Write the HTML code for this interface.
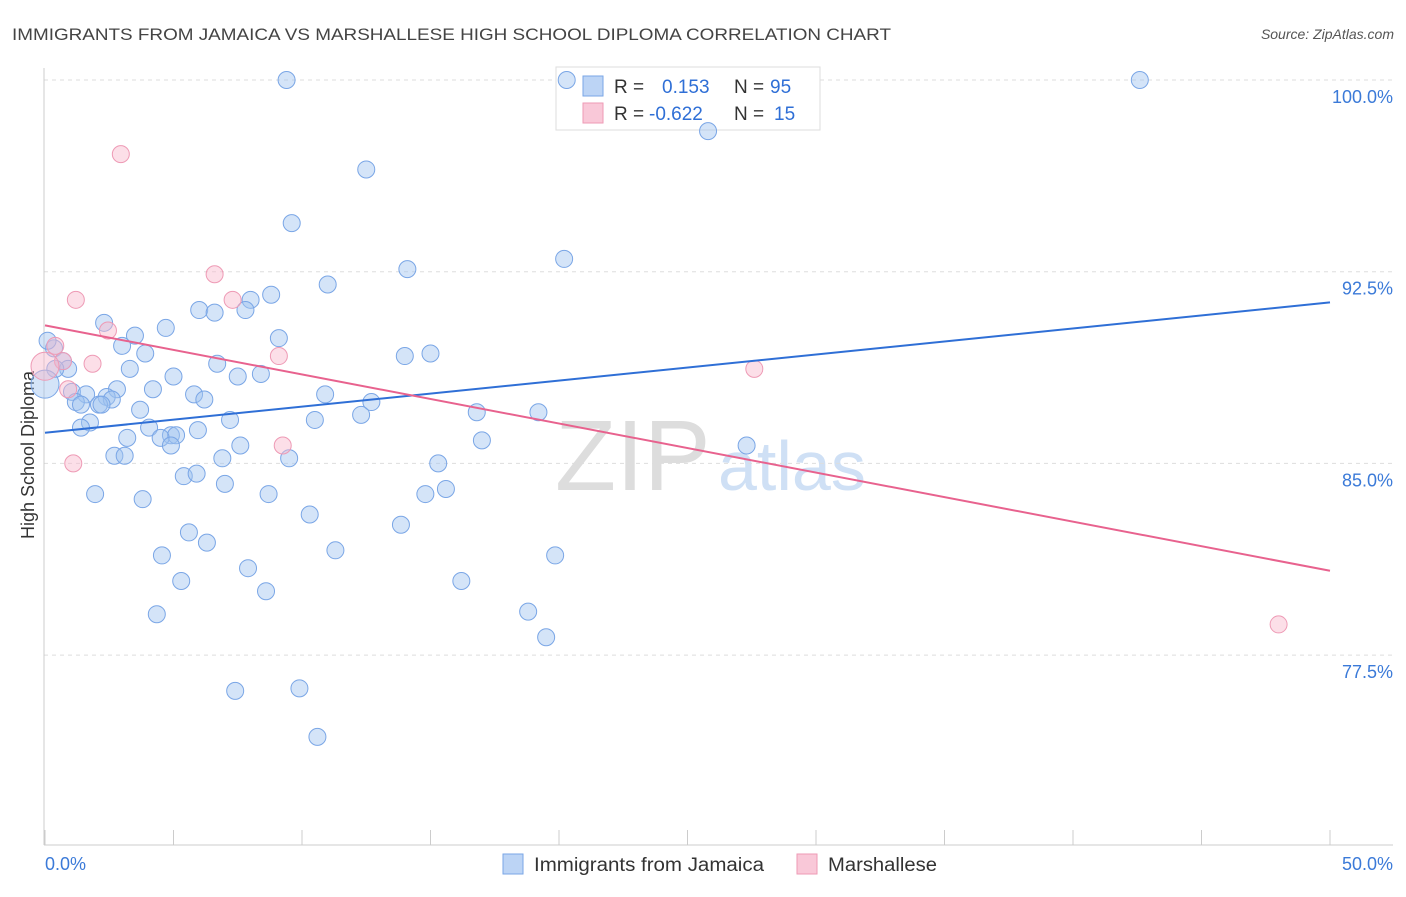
<!DOCTYPE html>
<html><head><meta charset="utf-8"><style>
body{margin:0;background:#fff;font-family:"Liberation Sans",sans-serif}
svg text{font-family:"Liberation Sans",sans-serif}
</style></head><body>
<svg id="chart" width="1406" height="892">
<text x="12" y="40" font-size="17" fill="#444" textLength="879" lengthAdjust="spacingAndGlyphs">IMMIGRANTS FROM JAMAICA VS MARSHALLESE HIGH SCHOOL DIPLOMA CORRELATION CHART</text>
<text x="1394" y="39" font-size="14" fill="#555" font-style="italic" text-anchor="end">Source: ZipAtlas.com</text>
<text x="555" y="490" font-size="100" fill="#ddd" font-family="Liberation Serif">ZIP</text>
<text x="718" y="490" font-size="70" fill="#cfe0f5">atlas</text>
<g id="grid"></g>
<line x1="44" y1="68" x2="44" y2="845" stroke="#ccc"/>
<line x1="44" y1="845" x2="1393" y2="845" stroke="#ccc"/>
<g id="ticks"></g>
<text transform="translate(34,455) rotate(-90)" font-size="18" fill="#333" text-anchor="middle">High School Diploma</text>
<text x="45" y="870" font-size="18" fill="#3b7ad8">0.0%</text>
<text x="1393" y="870" font-size="18" fill="#3b7ad8" text-anchor="end">50.0%</text>
<g>
<rect x="556" y="67" width="264" height="63" fill="#fff" stroke="#ddd"/>
<rect x="583" y="76" width="20" height="20" fill="#bcd4f5" stroke="#7aa6e6"/>
<rect x="583" y="103" width="20" height="20" fill="#f9c8d8" stroke="#ee9ab5"/>
<text x="614" y="93" font-size="19" fill="#333">R = <tspan fill="#2f6fd6" x="662">0.153</tspan><tspan x="734" fill="#333">N = </tspan><tspan fill="#2f6fd6" x="770">95</tspan></text>
<text x="614" y="120" font-size="19" fill="#333">R = <tspan fill="#2f6fd6" x="649">-0.622</tspan><tspan x="734" fill="#333">N = </tspan><tspan fill="#2f6fd6" x="774">15</tspan></text>
</g>
<g id="pts"></g>
<g id="lines"></g>
<g>
<rect x="503" y="854" width="20" height="20" fill="#bcd4f5" stroke="#7aa6e6"/>
<text x="534" y="871" font-size="19" fill="#333" textLength="230" lengthAdjust="spacingAndGlyphs">Immigrants from Jamaica</text>
<rect x="797" y="854" width="20" height="20" fill="#f9c8d8" stroke="#ee9ab5"/>
<text x="828" y="871" font-size="19" fill="#333" textLength="109" lengthAdjust="spacingAndGlyphs">Marshallese</text>
</g>
</svg>
<script>
const yTicks=[100,92.5,85,77.5];
const yTickLabels=["100.0%","92.5%","85.0%","77.5%"];
const xTicks=[0,5,10,15,20,25,30,35,40,45,50];
const blueX=[9.4,20.3,42.6,25.8,12.5,9.6,14.1,20.2,11,8.8,8,6,6.6,7.8,2.3,4.7,3.5,9.1,3,3.9,0.35,0.1,0.7,0.9,0.4,6.7,14,15,3.3,5,7.5,8.4,1.05,1.6,2.8,4.2,5.8,6.2,10.9,2.4,2.6,1.2,1.4,2.1,2.2,3.7,12.7,7.2,10.5,12.3,16.8,19.2,1.75,1.4,4.05,4.9,5.1,5.95,3.2,4.5,4.9,7.6,17,27.3,2.7,3.1,6.9,9.5,15.3,5.4,5.9,7,1.95,3.8,8.7,14.8,15.6,10.3,13.85,5.6,6.3,11.3,4.55,19.85,7.9,5.3,16.2,8.6,18.8,4.35,19.5,7.4,9.9,10.6,0];
const blueY=[100,100,100,98,96.5,94.4,92.6,93,92,91.6,91.4,91,90.9,91,90.5,90.3,90,89.9,89.6,89.3,89.5,89.8,89,88.7,88.7,88.9,89.2,89.3,88.7,88.4,88.4,88.5,87.8,87.7,87.9,87.9,87.7,87.5,87.7,87.6,87.5,87.4,87.3,87.3,87.3,87.1,87.4,86.7,86.7,86.9,87,87,86.6,86.4,86.4,86.1,86.1,86.3,86,86,85.7,85.7,85.9,85.7,85.3,85.3,85.2,85.2,85,84.5,84.6,84.2,83.8,83.6,83.8,83.8,84,83,82.6,82.3,81.9,81.6,81.4,81.4,80.9,80.4,80.4,80,79.2,79.1,78.2,76.1,76.2,74.3,88.1];
const pinkX=[2.95,6.6,7.3,1.2,2.45,0.4,9.1,1.85,0.7,0.9,9.25,1.1,27.6,48,0];
const pinkY=[97.1,92.4,91.4,91.4,90.2,89.6,89.2,88.9,89,87.9,85.7,85,88.7,78.7,88.8];
const blueTrend=[[0,86.2],[50,91.3]];
const pinkTrend=[[0,90.4],[50,80.8]];
const X=v=>45+v/50*1285, Y=v=>80+(100-v)*25.56;
const NS="http://www.w3.org/2000/svg";
function mk(t,a,p){const e=document.createElementNS(NS,t);for(const k in a)e.setAttribute(k,a[k]);document.getElementById(p).appendChild(e);return e;}
yTicks.forEach((v,i)=>{
 const l=mk('line',{x1:44,x2:1393,y1:Y(v),y2:Y(v),stroke:'#ddd','stroke-dasharray':'4,4'},'grid');
 
 
 const t=mk('text',{x:1393,y:Y(v)+23,'font-size':18,fill:'#3b7ad8','text-anchor':'end'},'grid');
 
 
 t.textContent=yTickLabels[i];
});
xTicks.forEach(v=>{
 const l=mk('line',{x1:X(v),x2:X(v),y1:830,y2:845,stroke:'#ccc'},'ticks');
 
 
});
blueX.forEach((x,i)=>{
 const r=i===blueX.length-1?14:8.5;
 const c=mk('circle',{cx:X(x),cy:Y(blueY[i]),r:r,fill:'rgba(160,195,240,0.45)',stroke:'#7aa6e6','stroke-width':1},'pts');
 
 
});
pinkX.forEach((x,i)=>{
 const r=i===pinkX.length-1?14:8.5;
 const c=mk('circle',{cx:X(x),cy:Y(pinkY[i]),r:r,fill:'rgba(248,185,205,0.45)',stroke:'#ee9ab5','stroke-width':1},'pts');
 
 
});
const bl=mk('line',{x1:X(blueTrend[0][0]),y1:Y(blueTrend[0][1]),x2:X(blueTrend[1][0]),y2:Y(blueTrend[1][1]),stroke:'#2f6fd6','stroke-width':2},'lines');


const pl=mk('line',{x1:X(pinkTrend[0][0]),y1:Y(pinkTrend[0][1]),x2:X(pinkTrend[1][0]),y2:Y(pinkTrend[1][1]),stroke:'#e8628e','stroke-width':2},'lines');


</script>
</body></html>
